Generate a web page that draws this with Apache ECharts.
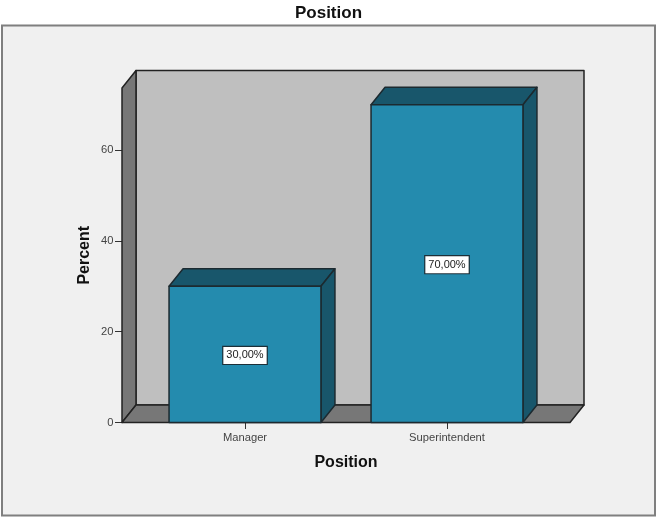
<!DOCTYPE html>
<html>
<head>
<meta charset="utf-8">
<style>html,body{margin:0;padding:0;background:#fff}#chart{width:657px;height:520px}</style>
<script src="https://cdn.jsdelivr.net/npm/echarts@6/dist/echarts.min.js"></script>
</head>
<body>
<div id="chart"></div>
<script>
// Share of respondents by position, in percent
const categories = ['Manager', 'Superintendent'];
const percents = [30, 70];
const percentTicks = [0, 20, 40, 60];
const axisTop = 73.7;

// Oblique projection of the box: how far the back plane shifts, in pixels
const depthX = 14;
const depthY = 17.5;
const sideOverhang = 22;
const barShare = 0.752;
const edge = '#1c2a30';

const chart = echarts.init(document.getElementById('chart'));

function poly(points, fill, stroke) {
  return { type: 'polygon', shape: { points }, style: { fill, stroke, lineWidth: 1.5, lineJoin: 'round' } };
}

// Back wall, left wall and floor of the chart box
function renderRoom(params, api) {
  const c = params.coordSys;
  const l = c.x - sideOverhang, r = c.x + c.width + sideOverhang;
  const t = c.y, b = api.coord([0, 0])[1];
  const dx = depthX, dy = depthY;
  return { type: 'group', children: [
    poly([[l + dx, t - dy], [r + dx, t - dy], [r + dx, b - dy], [l + dx, b - dy]], '#bfbfbf', '#222'),
    poly([[l, t], [l + dx, t - dy], [l + dx, b - dy], [l, b]], '#777777', '#222'),
    poly([[l, b], [r, b], [r + dx, b - dy], [l + dx, b - dy]], '#777777', '#222')
  ] };
}

// One bar: front face, top and right side, plus its value label
function renderBar(params, api) {
  const idx = api.value(0), val = api.value(1);
  const [cx, top] = api.coord([idx, val]);
  const base = api.coord([idx, 0])[1];
  const mid = api.coord([idx, val / 2])[1];
  const w = api.size([1, 0])[0] * barShare;
  const l = cx - w / 2, r = cx + w / 2;
  const dx = depthX, dy = depthY;
  return { type: 'group', children: [
    poly([[l, top], [l + dx, top - dy], [r + dx, top - dy], [r, top]], '#18566b', edge),
    poly([[r, top], [r + dx, top - dy], [r + dx, base - dy], [r, base]], '#18566b', edge),
    poly([[l, top], [r, top], [r, base], [l, base]], '#248bae', edge),
    { type: 'text', style: {
        x: cx, y: mid + 1,
        text: val.toFixed(2).replace('.', ',') + '%',
        align: 'center', verticalAlign: 'middle',
        fill: '#222', font: '11px "Liberation Sans"',
        backgroundColor: '#ffffff', borderColor: '#1c2f38', borderWidth: 1.2,
        padding: [3, 3, 3, 3]
    } }
  ] };
}

chart.setOption({
  animation: false,
  backgroundColor: '#ffffff',
  textStyle: { fontFamily: 'Liberation Sans' },
  graphic: [{
    type: 'rect', z: -10, silent: true,
    shape: { x: 2, y: 25.5, width: 653, height: 490 },
    style: { fill: '#f0f0f0', stroke: '#7f7f7f', lineWidth: 2 }
  }],
  title: {
    text: 'Position', left: 'center', top: 0,
    textStyle: { fontSize: 17, fontWeight: 'bold', color: '#111', fontFamily: 'Liberation Sans' }
  },
  grid: { left: 144, width: 404, top: 88, height: 334.5 },
  xAxis: {
    type: 'category', data: categories,
    name: 'Position', nameLocation: 'middle', nameGap: 32, nameMoveOverlap: false,
    nameTextStyle: { fontSize: 16, fontWeight: 'bold', color: '#111' },
    axisLine: { show: false },
    axisTick: { show: true, alignWithLabel: true, length: 6.5, lineStyle: { color: '#333', width: 1 } },
    axisLabel: { fontSize: 11.2, color: '#444', margin: 10 },
    splitLine: { show: false }
  },
  yAxis: {
    type: 'value', min: 0, max: axisTop, offset: sideOverhang,
    name: 'Percent', nameLocation: 'middle', nameGap: 29, nameRotate: 90, nameMoveOverlap: false,
    nameTextStyle: { fontSize: 16, fontWeight: 'bold', color: '#111' },
    axisLine: { show: true, lineStyle: { color: '#222', width: 1 } },
    axisTick: { show: true, length: 7, customValues: percentTicks, lineStyle: { color: '#333', width: 1 } },
    axisLabel: { fontSize: 11.2, color: '#444', margin: 8.5, padding: [2, 0, 0, 0], customValues: percentTicks },
    splitLine: { show: false }
  },
  series: [
    { type: 'custom', z: 1, silent: true, renderItem: renderRoom, data: [[0, 0]], clip: false },
    { type: 'custom', z: 2, silent: true, renderItem: renderBar, clip: false,
      encode: { x: 0, y: 1 },
      data: percents.map((v, i) => [i, v]) }
  ]
});
</script>
</body>
</html>
